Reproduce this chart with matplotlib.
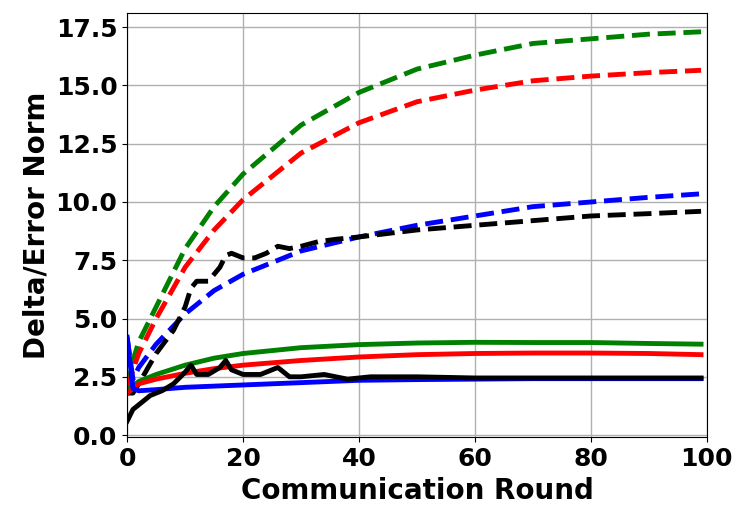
import matplotlib
matplotlib.use("Agg")
import matplotlib.pyplot as plt

x_a = [0,1,2,5,10,15,20,30,40,50,60,70,80,90,99]
green_dash = [2.0,3.2,4.0,5.5,8.0,9.8,11.2,13.3,14.7,15.7,16.3,16.8,17.0,17.2,17.3]
red_dash = [2.0,2.8,3.5,5.0,7.2,8.8,10.1,12.1,13.4,14.3,14.8,15.2,15.4,15.55,15.65]
blue_dash = [4.2,2.4,2.9,3.9,5.2,6.2,6.9,7.9,8.5,9.0,9.4,9.8,10.0,10.2,10.35]
green_solid = [2.0,2.1,2.3,2.6,3.0,3.3,3.5,3.75,3.88,3.95,3.98,3.97,3.97,3.93,3.9]
red_solid = [1.8,2.0,2.2,2.4,2.65,2.85,3.0,3.2,3.35,3.45,3.5,3.52,3.52,3.5,3.45]
blue_solid = [4.2,2.0,1.9,1.95,2.05,2.1,2.15,2.25,2.35,2.38,2.4,2.42,2.42,2.42,2.42]

x_bd = [0,1,2,5,8,10,11,12,14,16,17,18,20,22,24,26,28,30,33,36,40,50,60,70,80,90,99]
black_dash = [1.8,1.8,2.2,3.5,4.5,5.5,6.3,6.6,6.6,7.2,7.7,7.8,7.6,7.6,7.8,8.1,8.0,8.1,8.3,8.4,8.5,8.8,9.0,9.2,9.4,9.5,9.6]
x_bs = [0,1,2,4,6,8,10,11,12,14,16,17,18,20,23,26,28,30,34,38,42,50,60,70,80,90,99]
black_solid = [0.6,1.1,1.3,1.7,1.9,2.2,2.7,3.0,2.6,2.6,2.9,3.2,2.8,2.6,2.6,2.9,2.5,2.5,2.6,2.4,2.5,2.5,2.45,2.45,2.45,2.45,2.45]

fig, ax = plt.subplots(figsize=(7.48, 5.27), dpi=100)
lw = 3.5
ax.plot(x_a, green_dash, '--', color='green', lw=lw)
ax.plot(x_a, red_dash, '--', color='red', lw=lw)
ax.plot(x_a, blue_dash, '--', color='blue', lw=lw)
ax.plot(x_bd, black_dash, '--', color='black', lw=lw)
ax.plot(x_a, green_solid, '-', color='green', lw=lw)
ax.plot(x_a, red_solid, '-', color='red', lw=lw)
ax.plot(x_a, blue_solid, '-', color='blue', lw=lw)
ax.plot(x_bs, black_solid, '-', color='black', lw=lw)

ax.set_xlim(0, 100)
ax.set_ylim(-0.1, 18.1)
ax.set_xticks([0,20,40,60,80,100])
ax.set_yticks([0,2.5,5,7.5,10,12.5,15,17.5])
ax.grid(True, color='#b0b0b0', lw=1)
ax.set_xlabel('Communication Round', fontsize=20, fontweight='bold')
ax.set_ylabel('Delta/Error Norm', fontsize=20, fontweight='bold')
for t in ax.get_xticklabels() + ax.get_yticklabels():
    t.set_fontsize(18); t.set_fontweight('bold')
fig.subplots_adjust(left=0.17, right=0.945, top=0.975, bottom=0.17)
fig.savefig('out.png')
